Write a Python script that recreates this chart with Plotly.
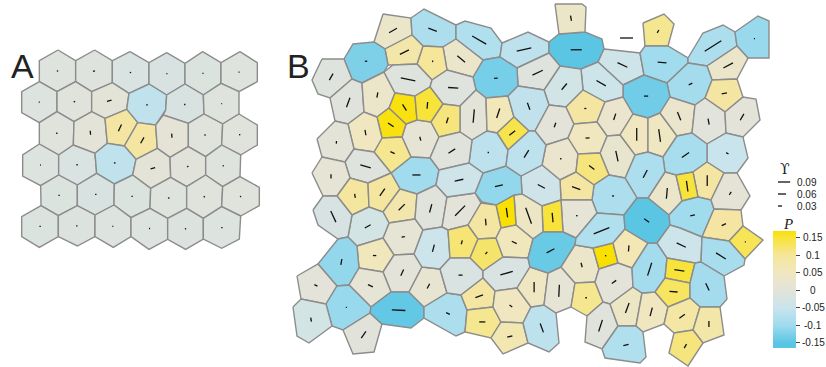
import math
import plotly.graph_objects as go
from plotly.colors import sample_colorscale

# ---------- Panel A: cell outlines (units: third of a pixel), pressure, tension, angle ----------
a_polys = [
 [(174,30),(227,62),(227,125),(171,155),(118,125),(118,62)],
 [(284,30),(337,62),(337,128),(275,155),(227,125),(227,62)],
 [(390,35),(447,68),(447,132),(387,160),(337,128),(337,62)],
 [(500,38),(555,70),(555,132),(500,165),(447,132),(447,68)],
 [(608,35),(663,68),(663,130),(610,165),(555,132),(555,70)],
 [(720,35),(772,68),(772,125),(717,155),(663,130),(663,68)],
 [(118,125),(171,155),(171,215),(118,248),(65,218),(65,155)],
 [(171,155),(227,125),(275,155),(275,215),(222,245),(171,215)],
 [(275,155),(337,128),(387,160),(380,208),(315,235),(275,215)],
 [(387,160),(447,132),(500,165),(497,210),(467,255),(413,248),(380,208)],
 [(500,165),(555,132),(610,165),(612,222),(565,250),(490,225),(497,210)],
 [(610,165),(663,130),(717,155),(717,222),(668,252),(612,222)],
 [(171,215),(222,245),(220,315),(176,345),(118,312),(118,248)],
 [(222,245),(275,215),(315,235),(322,310),(285,340),(220,315)],
 [(315,235),(380,208),(413,248),(373,318),(322,310)],
 [(413,248),(467,255),(472,325),(408,358),(373,318)],
 [(467,255),(490,225),(565,250),(565,320),(510,352),(472,325)],
 [(565,250),(612,222),(668,252),(665,315),(617,350),(565,320)],
 [(668,252),(717,222),(772,255),(772,315),(722,345),(665,315)],
 [(118,312),(176,345),(176,405),(122,437),(68,408),(68,345)],
 [(176,345),(220,315),(285,340),(290,400),(232,435),(176,405)],
 [(285,340),(322,310),(373,318),(408,358),(398,405),(343,432),(290,400)],
 [(408,358),(472,325),(510,352),(512,412),(452,445),(398,405)],
 [(510,352),(565,320),(617,350),(617,405),(560,440),(512,412)],
 [(617,350),(665,315),(722,345),(720,410),(668,440),(617,405)],
 [(176,405),(232,435),(232,497),(175,527),(123,497),(122,437)],
 [(232,435),(290,400),(343,432),(342,495),(285,525),(232,497)],
 [(343,432),(398,405),(452,445),(450,505),(393,533),(342,495)],
 [(452,445),(512,412),(560,440),(560,505),(503,535),(450,505)],
 [(560,440),(617,405),(668,440),(665,500),(610,535),(560,505)],
 [(668,440),(720,410),(778,442),(778,497),(722,528),(665,500)],
 [(123,497),(175,527),(175,590),(118,622),(65,590),(65,530)],
 [(175,527),(232,497),(285,525),(285,590),(232,618),(175,590)],
 [(285,525),(342,495),(393,533),(393,590),(340,622),(285,590)],
 [(393,533),(450,505),(503,535),(503,598),(447,628),(393,590)],
 [(503,535),(560,505),(610,535),(610,597),(557,628),(503,598)],
 [(610,535),(665,500),(722,528),(718,597),(665,625),(610,597)],
]
a_P = [-.01,-.01,-.02,-.022,-.015,-.01,
       -.012,-.006,.004,-.062,-.022,-.01,
       -.008,.004,.09,.09,.006,-.006,-.008,
       -.012,-.02,-.062,.004,-.004,-.01,
       -.016,-.022,-.016,-.01,-.008,-.008,
       -.015,-.014,-.012,-.012,-.014,-.012]
a_U = [.01,.015,.01,.008,.008,.008,
       .008,.012,.035,.012,.01,.006,
       .01,.03,.055,.05,.03,.01,.01,
       .006,.01,.012,.035,.012,.01,
       .01,.01,.01,.012,.01,.01,
       .01,.01,.008,.008,.01,.01]
a_ang = [0,10,0,0,0,0,0,45,15,0,0,0,
         0,95,65,60,95,45,0,
         0,0,-30,15,50,20,
         0,0,0,10,30,0,
         0,0,-30,0,0,0]

# ---------- Panel B: cell outlines (units: pixels) ----------
b_polys = [
 [(383,14),(411,18),(412,35),(385,49),(374,42)],
 [(411,18),(424,9),(456,25),(456,39),(443,47),(423,46),(412,35)],
 [(456,25),(465,21),(491,28),(502,43),(500,57),(483,60),(456,39)],
 [(502,43),(528,32),(549,42),(549,53),(517,68),(500,57)],
 [(549,42),(559,34),(585,32),(602,39),(604,49),(598,62),(581,69),(560,66),(549,53)],
 [(555,4),(582,4),(586,7),(585,32),(559,34)],
 [(604,49),(640,53),(644,75),(623,85),(598,62)],
 [(643,23),(664,14),(674,24),(668,46),(645,46)],
 [(640,53),(645,46),(668,46),(688,58),(688,63),(667,83),(644,75)],
 [(688,58),(703,33),(723,25),(735,32),(737,46),(707,66),(688,63)],
 [(735,32),(758,16),(769,21),(769,58),(748,58),(737,46)],
 [(707,66),(737,46),(748,58),(737,79),(712,80)],
 [(688,63),(707,66),(712,80),(705,98),(695,105),(670,97),(667,83)],
 [(712,80),(737,79),(743,97),(725,112),(705,98)],
 [(644,75),(667,83),(670,97),(660,113),(648,118),(633,114),(623,97),(623,85)],
 [(598,62),(623,85),(623,97),(605,102),(583,90),(581,69)],
 [(560,66),(581,69),(583,90),(566,107),(549,105),(544,90)],
 [(549,53),(560,66),(544,90),(518,86),(517,68)],
 [(483,60),(500,57),(517,68),(518,86),(508,96),(486,98),(476,90),(473,77)],
 [(443,47),(456,39),(483,60),(473,77),(447,70)],
 [(423,46),(443,47),(447,70),(432,80),(417,64)],
 [(385,49),(412,35),(423,46),(417,64),(393,65),(388,65)],
 [(344,59),(353,44),(374,42),(385,49),(388,65),(384,72),(362,83),(352,79)],
 [(322,59),(344,59),(352,79),(330,98),(318,94),(312,80)],
 [(330,98),(352,79),(362,83),(364,112),(348,124),(335,121)],
 [(362,83),(384,72),(395,93),(389,108),(377,117),(364,112)],
 [(384,72),(393,65),(417,64),(432,80),(430,87),(415,96),(395,93)],
 [(432,80),(447,70),(473,77),(476,90),(460,106),(443,104),(430,87)],
 [(460,106),(476,90),(486,98),(487,131),(472,140),(460,132)],
 [(486,98),(508,96),(514,117),(497,133),(487,131)],
 [(508,96),(518,86),(544,90),(549,105),(535,131),(529,131),(514,117)],
 [(497,133),(514,117),(529,131),(508,150)],
 [(549,105),(566,107),(574,124),(568,138),(546,145),(535,131)],
 [(566,107),(583,90),(605,102),(597,122),(574,124)],
 [(605,102),(623,97),(633,114),(620,135),(607,136),(597,122)],
 [(633,114),(648,118),(648,152),(635,155),(620,135)],
 [(648,118),(660,113),(677,136),(663,157),(648,152)],
 [(660,113),(670,97),(695,105),(692,133),(677,136)],
 [(695,105),(705,98),(725,112),(726,133),(707,144),(692,133)],
 [(725,112),(743,97),(756,99),(760,120),(743,137),(726,133)],
 [(707,144),(726,133),(743,137),(748,158),(737,173),(724,173),(707,162)],
 [(663,157),(677,136),(692,133),(707,144),(707,162),(693,172),(676,175),(665,172)],
 [(693,172),(707,162),(724,173),(711,200),(698,197)],
 [(665,172),(676,175),(682,201),(669,215),(648,198)],
 [(676,175),(693,172),(698,197),(682,201)],
 [(625,178),(635,155),(648,152),(663,157),(665,172),(648,198),(637,198)],
 [(607,136),(620,135),(635,155),(625,178),(609,175),(600,153)],
 [(568,138),(574,124),(597,122),(607,136),(600,153),(578,154)],
 [(546,145),(568,138),(578,154),(576,172),(560,180),(542,165)],
 [(578,154),(600,153),(609,175),(594,185),(576,172)],
 [(592,200),(594,185),(609,175),(625,178),(637,198),(624,215),(597,213)],
 [(560,180),(576,172),(594,185),(592,200),(561,200)],
 [(521,176),(542,165),(560,180),(561,200),(542,206),(522,194)],
 [(561,200),(592,200),(597,213),(576,238),(563,232)],
 [(542,206),(561,200),(563,232),(543,232)],
 [(514,195),(522,194),(542,206),(543,232),(533,239),(516,225)],
 [(496,205),(514,195),(516,225),(501,228)],
 [(483,173),(506,166),(521,176),(522,194),(514,195),(496,205),(482,202),(475,193)],
 [(472,140),(487,131),(497,133),(508,150),(506,166),(483,173),(469,163)],
 [(508,150),(529,131),(535,131),(546,145),(542,165),(521,176),(506,166)],
 [(402,137),(406,124),(417,120),(431,122),(439,137),(430,158),(411,157)],
 [(377,117),(389,108),(406,124),(402,137),(382,138)],
 [(395,93),(415,96),(417,120),(406,124),(389,108)],
 [(415,96),(430,87),(443,104),(431,122),(417,120)],
 [(443,104),(460,106),(460,132),(439,137),(431,122)],
 [(439,137),(460,132),(472,140),(469,163),(439,170),(430,158)],
 [(391,173),(411,157),(430,158),(439,170),(436,185),(417,194),(400,189)],
 [(374,152),(382,138),(402,137),(411,157),(391,173)],
 [(348,124),(364,112),(377,117),(382,138),(374,152),(354,149)],
 [(317,139),(335,121),(348,124),(354,149),(345,162),(322,157)],
 [(345,162),(354,149),(374,152),(391,173),(368,183),(350,178)],
 [(312,173),(322,157),(345,162),(350,178),(337,196),(323,196)],
 [(337,196),(350,178),(368,183),(369,207),(352,215)],
 [(368,183),(391,173),(400,189),(383,212),(369,207)],
 [(400,189),(417,194),(415,219),(389,223),(383,212)],
 [(417,194),(436,185),(447,197),(442,227),(423,230),(415,219)],
 [(447,197),(475,193),(481,203),(468,225),(448,230),(442,227)],
 [(436,185),(439,170),(469,163),(483,173),(475,193),(447,197)],
 [(383,238),(389,223),(415,219),(423,230),(414,254),(394,255)],
 [(348,237),(352,215),(369,207),(383,212),(389,223),(383,238),(357,246)],
 [(313,210),(323,196),(337,196),(352,215),(348,237),(338,239),(318,225)],
 [(357,246),(383,238),(394,255),(383,272),(359,268)],
 [(318,264),(338,239),(348,237),(357,246),(359,268),(349,285),(337,286)],
 [(383,272),(394,255),(414,254),(422,267),(409,292),(391,292)],
 [(349,285),(359,268),(383,272),(391,292),(371,307)],
 [(297,276),(318,264),(337,286),(326,304),(301,299)],
 [(326,304),(337,286),(349,285),(371,307),(370,313),(343,330),(332,326)],
 [(293,307),(301,299),(326,304),(332,326),(309,343),(297,336)],
 [(343,330),(370,313),(382,324),(374,352),(353,354)],
 [(371,307),(391,292),(409,292),(424,307),(424,318),(411,328),(382,324),(370,313)],
 [(409,292),(422,267),(440,269),(447,293),(424,307)],
 [(424,307),(447,293),(461,295),(467,310),(465,332),(456,336),(424,318)],
 [(414,254),(423,230),(442,227),(448,230),(450,258),(440,269),(422,267)],
 [(448,230),(468,225),(478,239),(470,258),(450,258)],
 [(468,225),(481,203),(496,205),(501,228),(496,238),(478,239)],
 [(470,258),(478,239),(496,238),(503,257),(483,271)],
 [(496,238),(501,228),(516,225),(533,239),(528,258),(503,257)],
 [(450,258),(470,258),(483,271),(483,278),(461,295),(447,293),(440,269)],
 [(483,271),(503,257),(528,258),(530,267),(517,288),(495,291),(483,278)],
 [(461,295),(483,278),(495,291),(493,307),(467,310)],
 [(467,310),(493,307),(501,322),(491,338),(465,332)],
 [(495,291),(517,288),(531,307),(523,323),(501,322),(493,307)],
 [(491,338),(501,322),(523,323),(528,343),(503,354)],
 [(523,323),(531,307),(544,305),(556,313),(559,343),(549,352),(528,343)],
 [(517,288),(530,267),(548,273),(544,305),(531,307)],
 [(548,273),(561,267),(575,283),(571,307),(556,313),(544,305)],
 [(528,258),(533,239),(543,232),(563,232),(576,238),(575,245),(561,267),(548,273),(530,267)],
 [(561,267),(575,245),(593,248),(599,269),(595,282),(575,283)],
 [(575,283),(595,282),(603,302),(587,316),(571,307)],
 [(593,248),(613,243),(618,263),(599,269)],
 [(576,238),(597,213),(624,215),(625,229),(613,243),(593,248),(575,245)],
 [(613,243),(625,229),(648,243),(632,268),(618,263)],
 [(595,282),(599,269),(618,263),(632,268),(633,287),(610,304),(603,302)],
 [(587,316),(603,302),(610,304),(618,326),(602,349),(585,342)],
 [(610,304),(633,287),(642,293),(636,326),(618,326)],
 [(642,293),(655,292),(668,307),(664,324),(643,332),(636,326)],
 [(602,349),(618,326),(636,326),(643,332),(646,357),(640,363),(605,358)],
 [(632,268),(648,243),(657,243),(667,258),(665,278),(655,292),(642,293),(633,287)],
 [(624,215),(637,198),(648,198),(669,215),(670,225),(657,243),(648,243),(625,229)],
 [(669,215),(682,201),(698,197),(711,200),(714,209),(702,237),(680,228),(670,225)],
 [(711,200),(724,173),(737,173),(750,196),(741,210),(714,209)],
 [(714,209),(741,210),(743,226),(729,241),(702,237)],
 [(729,241),(743,226),(763,240),(745,259)],
 [(657,243),(670,225),(680,228),(702,237),(701,262),(695,263),(667,258)],
 [(667,258),(695,263),(690,283),(665,278)],
 [(655,292),(665,278),(690,283),(690,298),(668,307)],
 [(702,237),(729,241),(745,259),(744,265),(724,276),(701,262)],
 [(695,263),(701,262),(724,276),(727,299),(720,307),(700,307),(690,298),(690,283)],
 [(668,307),(690,298),(700,307),(693,330),(674,333),(664,324)],
 [(700,307),(720,307),(724,335),(703,343),(693,330)],
 [(674,333),(693,330),(703,343),(688,366),(669,353)],
]
b_P = [.03,-.085,-.08,-.065,-.155,.035,-.04,.105,-.1,-.085,-.105,.03,-.095,.09,-.135,
       -.045,-.035,-.01,-.13,.03,.1,.08,-.125,-.01,-.005,.03,-.01,-.01,.003,.06,-.06,.14,
       0,.09,.025,.05,.045,.025,-.002,0,-.05,-.09,.09,.03,.15,-.085,.02,.05,.025,.115,
       -.085,.09,-.04,.007,.15,.04,.17,-.11,-.065,-.065,.01,.165,.165,.15,.115,-.005,-.1,
       .105,.05,.003,-.01,.01,.095,.095,.075,-.005,0,-.04,.01,-.03,-.025,.055,-.11,0,.01,
       0,-.105,-.03,-.003,-.145,.015,-.085,-.045,.12,.09,.125,.055,-.02,-.02,.09,.105,.05,
       .07,-.065,.045,.008,-.14,.03,.105,.17,-.08,.065,0,-.008,.04,.05,-.08,-.095,-.15,
       -.1,.005,.09,.135,-.045,.15,.13,-.09,-.095,.085,.08,.115]
b_U = [.067,.067,.12,.11,.082,.04,.08,.025,.065,.145,.008,.08,.03,.04,.03,
       .08,.06,.085,.027,.075,.012,.075,.018,.055,.075,.04,.11,.075,.1,.075,.055,.055,
       .035,.015,.05,.095,.095,.065,.045,.055,.02,.065,.08,.08,.08,.065,.08,.03,.01,.05,
       .015,.065,.06,.012,.07,.125,.07,.06,.01,.065,.03,.05,.055,.05,.045,.06,.06,
       .035,.04,.02,.08,.03,.03,.065,.065,.065,.105,.065,.025,.05,.09,.025,.045,.05,.04,
       .025,.008,.03,.06,.1,.04,.03,.055,.03,.05,.022,.04,.03,.095,.06,.045,.025,
       .04,.07,.075,.09,.065,.035,.012,.01,.125,.045,.04,.09,.08,.065,.04,.1,.045,
       .035,.025,.035,.008,.075,.075,.06,.085,.06,.05,.045,.035]
b_ang = [30,-20,-30,12,0,100,-25,60,-5,32,0,28,25,10,0,
         -30,50,25,5,-40,90,27,0,60,70,80,-12,-3,85,72,-70,38,
         70,0,72,90,-82,-68,-80,60,-30,35,90,85,-82,62,-78,5,0,-38,
         0,-20,-28,0,-85,-70,-82,12,0,58,-75,-35,-58,85,72,33,0,
         -25,-80,85,-15,90,-80,55,45,75,45,12,10,30,-65,0,80,65,-25,
         -25,0,-80,55,-3,62,-25,75,75,-85,50,-25,0,15,20,0,-35,
         15,-70,90,87,28,-75,0,0,22,85,35,72,70,75,15,72,-35,
         10,55,25,0,-25,-8,-5,-32,-65,35,90,60]

# Isolated tension bar above the tissue, panel B
free_bar_x = [620, 633]
free_bar_y = [38, 38]

# ---------- Legends ----------
legend_U = [.09, .06, .03]
legend_labels = ["0.09", "0.06", "0.03"]
legend_y = [182, 194, 206]
P_ticks = [.15, .1, .05, 0, -.05, -.1, -.15]
P_labels = ["0.15", "0.1", "0.05", "0", "-0.05", "-0.1", "-0.15"]
P_colorscale_stops = [(-.165,"#58C5E3"),(-.15,"#5BC6E4"),(-.1,"#A0DBEE"),(-.05,"#C9E4EC"),
                      (0,"#E3E3D9"),(.05,"#F0E7C0"),(.1,"#F5E69A"),(.15,"#F8E33A"),(.17,"#F9E000")]
Pmin, Pmax = -.165, .17
scale = [[(v-Pmin)/(Pmax-Pmin), c] for v, c in P_colorscale_stops]
PX_PER_U = 135

def colour(p):
    return sample_colorscale(scale, [(p-Pmin)/(Pmax-Pmin)], colortype="rgb")[0]

def centroid(poly):
    A = cx = cy = 0
    n = len(poly)
    for i in range(n):
        x0, y0 = poly[i]; x1, y1 = poly[(i+1) % n]
        c = x0*y1-x1*y0
        A += c; cx += (x0+x1)*c; cy += (y0+y1)*c
    return cx/(3*A), cy/(3*A)

fig = go.Figure()

def add_panel(polys, P, U, ang, xa, ya, k):
    sx, sy = [], []
    for poly, p, u, a in zip(polys, P, U, ang):
        xs = [q[0] for q in poly]+[poly[0][0]]
        ys = [q[1] for q in poly]+[poly[0][1]]
        fig.add_trace(go.Scatter(x=xs, y=ys, mode="lines", fill="toself", fillcolor=colour(p),
                                 line=dict(color="#8C8C8C", width=1.4), xaxis=xa, yaxis=ya,
                                 hoverinfo="skip", showlegend=False))
        cx, cy = centroid(poly)
        L = u*PX_PER_U*k/2
        dx, dy = L*math.cos(math.radians(a)), L*math.sin(math.radians(a))
        sx += [cx-dx, cx+dx, None]
        sy += [cy+dy, cy-dy, None]
    fig.add_trace(go.Scatter(x=sx, y=sy, mode="lines", line=dict(color="#111", width=1.3),
                             xaxis=xa, yaxis=ya, hoverinfo="skip", showlegend=False))

add_panel(a_polys, a_P, a_U, a_ang, "x2", "y2", 3)
add_panel(b_polys, b_P, b_U, b_ang, "x", "y", 1)
fig.add_trace(go.Scatter(x=free_bar_x, y=free_bar_y, mode="lines", line=dict(color="#111", width=1.3),
                         hoverinfo="skip", showlegend=False))

# Tension scale bars
lx, ly = [], []
for u, y in zip(legend_U, legend_y):
    lx += [778, 778+u*PX_PER_U, None]; ly += [y, y, None]
fig.add_trace(go.Scatter(x=lx, y=ly, mode="lines", line=dict(color="#111", width=1.3),
                         hoverinfo="skip", showlegend=False))

# Pressure colour bar
fig.add_trace(go.Scatter(x=[None], y=[None], mode="markers", xaxis="x3", yaxis="y3", showlegend=False,
    marker=dict(color=[0], cmin=Pmin, cmax=Pmax, colorscale=scale, showscale=True,
        colorbar=dict(x=773/826, xanchor="left", y=1-348/367, yanchor="bottom",
                      len=117, lenmode="pixels", thickness=23, thicknessmode="pixels",
                      xpad=0, ypad=0, outlinewidth=0, ticks="outside", ticklen=4, tickwidth=1,
                      tickcolor="#444", tickvals=P_ticks, showticklabels=True,
                      ticktext=[" "]*len(P_ticks)))))

hidden = dict(visible=False, showgrid=False, zeroline=False, fixedrange=True)
anns = [
    dict(x=22, y=66, text="A", font=dict(size=34)),
    dict(x=298, y=66, text="B", font=dict(size=34)),
    dict(x=785, y=169, text="ϒ", font=dict(size=14, family="DejaVu Serif")),
    dict(x=788, y=224, text="<i>P</i>", font=dict(size=15, family="Liberation Serif")),
]
for t, y in zip(legend_labels, legend_y):
    anns.append(dict(x=807, y=y, text=t, font=dict(size=10)))
for t, v in zip(P_labels, P_ticks):
    anns.append(dict(x=813, y=v, yref="y3", text=t, font=dict(size=10)))
for a in anns:
    a.setdefault("xref", "x"); a.setdefault("yref", "y")
    a["showarrow"] = False
    a["font"].setdefault("family", "Liberation Sans"); a["font"]["color"] = "#222"

fig.update_layout(
    width=826, height=367, margin=dict(l=0, r=0, t=0, b=0),
    paper_bgcolor="white", plot_bgcolor="white", showlegend=False, annotations=anns,
    xaxis=dict(range=[0, 826], domain=[0, 1], **hidden),
    yaxis=dict(range=[367, 0], domain=[0, 1], **hidden),
    xaxis2=dict(range=[0, 2478], domain=[0, 1], overlaying="x", **hidden),
    yaxis2=dict(range=[981, -120], domain=[0, 1], overlaying="y", **hidden),
    xaxis3=dict(range=[0, 1], domain=[773/826, 796/826], anchor="y3", **hidden),
    yaxis3=dict(range=[Pmin, Pmax], domain=[1-348/367, 1-231/367], anchor="x3", **hidden),
)
fig.write_html("out.html", post_script="document.body.style.margin='0';", config=dict(displayModeBar=False))
